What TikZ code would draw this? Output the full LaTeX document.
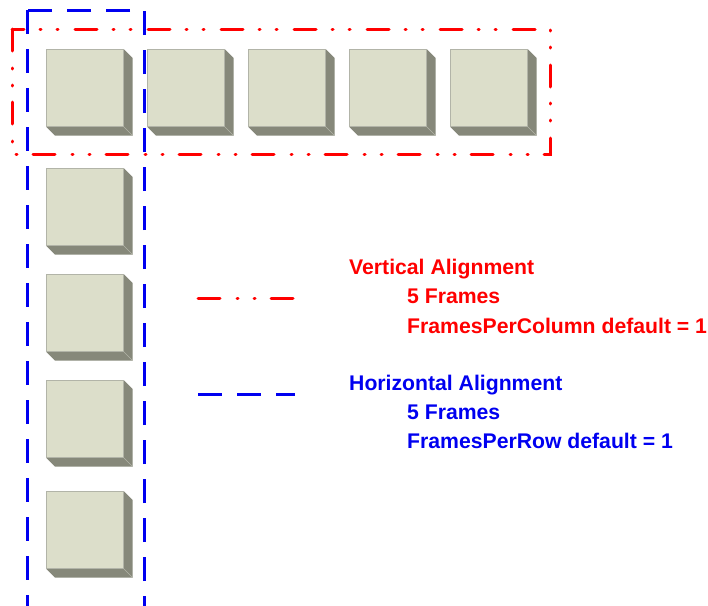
\documentclass[tikz,border=0pt]{standalone}
\usepackage{fontspec}
\setmainfont{Liberation Sans}

\definecolor{framefill}{RGB}{220,222,202}
\definecolor{frameshadow}{RGB}{134,136,122}
\definecolor{frameline}{RGB}{178,180,168}
\definecolor{alignred}{RGB}{255,0,0}
\definecolor{alignblue}{RGB}{0,0,240}

\begin{document}
\begin{tikzpicture}[x=1pt,y=-1pt]

\makeatletter
      \pgfdeclareshape{frameblock}{
      \inheritsavedanchors[from=rectangle] % plain box in front
      \inheritanchorborder[from=rectangle]
      \inheritanchor[from=rectangle]{center}
      \inheritanchor[from=rectangle]{north west}
      \inheritanchor[from=rectangle]{north}
      \inheritanchor[from=rectangle]{south}
      \inheritanchor[from=rectangle]{west}
      \inheritanchor[from=rectangle]{east}
      \behindbackgroundpath{% the dark side and bottom
      \southwest \pgf@xa=\pgf@x \pgf@ya=\pgf@y
      \northeast \pgf@xb=\pgf@x \pgf@yb=\pgf@y
      \pgfscope
      \pgfpathmoveto{\pgfpoint{\pgf@xb}{\pgf@yb}}
      \pgfpathlineto{\pgfpoint{\pgf@xb+9pt}{\pgf@yb-9pt}}
      \pgfpathlineto{\pgfpoint{\pgf@xb+9pt}{\pgf@ya-9pt}}
      \pgfpathlineto{\pgfpoint{\pgf@xa+9pt}{\pgf@ya-9pt}}
      \pgfpathlineto{\pgfpoint{\pgf@xa}{\pgf@ya}}
      \pgfpathlineto{\pgfpoint{\pgf@xb}{\pgf@ya}}
      \pgfpathclose
      \pgfsetfillcolor{frameshadow}
      \pgfusepath{fill}
      % light edge at the corner
      \pgfpathmoveto{\pgfpoint{\pgf@xb}{\pgf@ya}}
      \pgfpathlineto{\pgfpoint{\pgf@xb+9pt}{\pgf@ya-9pt}}
      \pgfsetstrokecolor{frameline}
      \pgfsetlinewidth{0.6pt}
      \pgfusepath{stroke}
      \endpgfscope
      }
      \backgroundpath{% front face
      \pgfpathrectanglecorners{\southwest}{\northeast}
      }
      }
\makeatother

\tikzstyle{frame} = [shape=frameblock,fill=framefill,draw=frameline,line width=0.6pt,minimum size=77pt,inner sep=0,anchor=north west];
\tikzstyle{vertline} = [alignred,line width=3pt,line cap=round,dash pattern=on 22pt off 17pt on 1pt off 16pt on 1pt off 16pt];
\tikzstyle{horzline} = [alignblue,line width=3pt,dash pattern=on 24pt off 15pt];
\tikzstyle{legendtext} = [anchor=base west,inner sep=0,font=\fontsize{21.2}{25}\selectfont\bfseries];

\useasboundingbox (0,0) rectangle (708,605);

% frames
\node[frame] (b1) at (46,49) {};
\node[frame] (b2) at (147,49) {};
\node[frame] (b3) at (248,49) {};
\node[frame] (b4) at (349,49) {};
\node[frame] (b5) at (450,49) {};
\node[frame] (b6) at (46,168) {};
\node[frame] (b7) at (46,274) {};
\node[frame] (b8) at (46,380) {};
\node[frame] (b9) at (46,491) {};

% alignment borders
\draw[vertline] (12,29) rectangle (550,154);
\draw[horzline] (27,10) rectangle (144,607.5);

% legend
\coordinate (r0) at (198,298);
\coordinate (r1) at (295,298);
\coordinate (h0) at (198,394);
\coordinate (h1) at (295,394);
\draw[vertline] (r0) -- (r1);
\draw[horzline] (h0) -- (h1);

\node[legendtext,text=alignred] (t1) at (349,274) {Vertical Alignment};
\node[legendtext,text=alignred] (t2) at (407,303) {5 Frames};
\node[legendtext,text=alignred] (t3) at (407,333) {FramesPerColumn default = 1};
\node[legendtext,text=alignblue] (t4) at (349,390) {Horizontal Alignment};
\node[legendtext,text=alignblue] (t5) at (407,419) {5 Frames};
\node[legendtext,text=alignblue] (t6) at (407,448) {FramesPerRow default = 1};
\end{tikzpicture}
\end{document}
